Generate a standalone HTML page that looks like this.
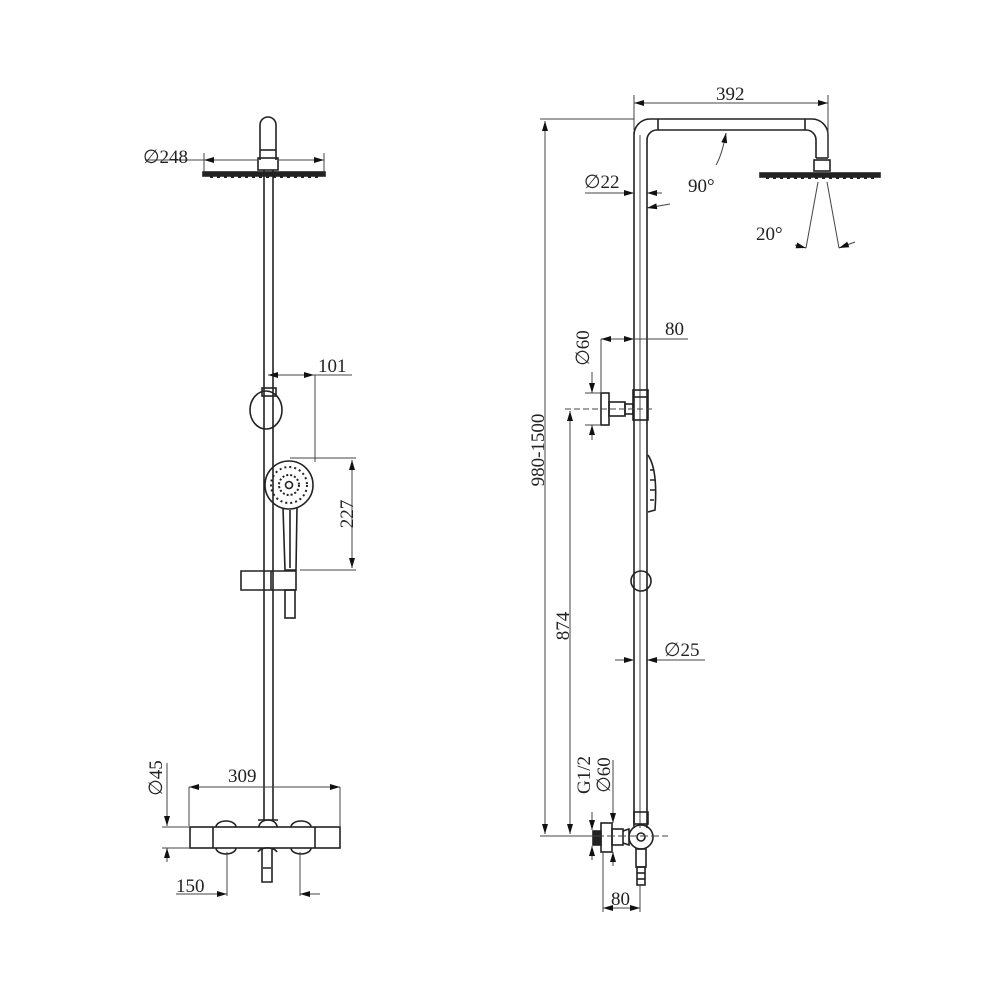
<!DOCTYPE html>
<html><head><meta charset="utf-8"><style>
html,body{margin:0;padding:0;background:#fff}
svg{display:block}
text{font-family:"Liberation Serif",serif;font-size:19px;fill:#222}
</style></head><body>
<svg width="1000" height="1000" viewBox="0 0 1000 1000" xmlns="http://www.w3.org/2000/svg">
<defs>
<marker id="a" viewBox="0 0 10 6" refX="10" refY="3" markerWidth="10" markerHeight="6" orient="auto-start-reverse" markerUnits="userSpaceOnUse"><path d="M0,0L10,3L0,6z" fill="#111"/></marker>
</defs>
<g fill="none" stroke="#222" stroke-width="1.6">
<path d="M260,160 L260,125 A8,8 0 0 1 276,125 L276,160"/>
<line x1="260" y1="150" x2="276" y2="150"/>
<rect x="258" y="158" width="20" height="12"/>
<line x1="264" y1="170" x2="264" y2="820"/>
<line x1="273" y1="170" x2="273" y2="820"/>
<rect x="203" y="172" width="122" height="4" fill="#222"/>
<path d="M210,177 L318,177" stroke-dasharray="3 4" stroke-width="2"/>
<rect x="262" y="388" width="14" height="8"/>
<ellipse cx="266" cy="410" rx="16" ry="19"/>
<circle cx="289" cy="485" r="24"/>
<circle cx="289" cy="485" r="18" stroke-dasharray="2 3" stroke-width="2"/>
<circle cx="289" cy="485" r="10" stroke-dasharray="2 2" stroke-width="2"/>
<circle cx="289" cy="485" r="3.5"/>
<path d="M283,508 L285,570 L296,570 L297,508"/>
<line x1="290" y1="510" x2="290" y2="568"/>
<path d="M241,571 L296,571 L296,590 L241,590 Z"/>
<line x1="271" y1="571" x2="271" y2="590"/>
<rect x="285" y="590" width="10" height="28"/>
<rect x="190" y="827" width="150" height="21"/>
<line x1="213" y1="827" x2="213" y2="848"/>
<line x1="315" y1="827" x2="315" y2="848"/>
<path d="M216,827 A10,6 0 0 1 236,827 M291,827 A10,6 0 0 1 311,827 M216,848 A10,6 0 0 0 236,848 M291,848 A10,6 0 0 0 311,848 M259,827 A9,7 0 0 1 277,827"/>
<path d="M258,820 L278,820"/>
<path d="M262,848 L262,882 L272,882 L272,848 M258,852 A10,6 0 0 1 277,852 M263,868 L271,868"/>
</g>
<g fill="none" stroke="#444" stroke-width="1">
<line x1="145" y1="160" x2="204" y2="160"/>
<line x1="204" y1="160" x2="258" y2="160" marker-start="url(#a)"/>
<line x1="278" y1="160" x2="324" y2="160" marker-end="url(#a)"/>
<line x1="204" y1="153" x2="204" y2="172"/><line x1="324" y1="153" x2="324" y2="172"/>
<line x1="268" y1="375" x2="352" y2="375"/>
<line x1="268" y1="375" x2="282" y2="375" marker-start="url(#a)"/>
<line x1="300" y1="375" x2="314" y2="375" marker-end="url(#a)"/>
<line x1="315" y1="375" x2="315" y2="462"/>
<line x1="290" y1="458" x2="356" y2="458"/><line x1="300" y1="570" x2="356" y2="570"/>
<line x1="352" y1="460" x2="352" y2="568" marker-start="url(#a)" marker-end="url(#a)"/>
<line x1="189" y1="787" x2="340" y2="787" marker-start="url(#a)" marker-end="url(#a)"/>
<line x1="189" y1="787" x2="189" y2="826"/><line x1="340" y1="787" x2="340" y2="826"/>
<line x1="167" y1="763" x2="167" y2="826" marker-end="url(#a)"/>
<line x1="167" y1="848" x2="167" y2="862" marker-start="url(#a)"/>
<line x1="162" y1="827" x2="190" y2="827"/><line x1="162" y1="848" x2="190" y2="848"/>
<line x1="227" y1="852" x2="227" y2="896"/><line x1="300" y1="852" x2="300" y2="896"/>
<line x1="176" y1="894" x2="227" y2="894" marker-end="url(#a)"/>
<line x1="300" y1="894" x2="320" y2="894" marker-start="url(#a)"/>
</g>
<text x="143" y="163">∅248</text>
<text x="318" y="372">101</text>
<text transform="translate(353,514) rotate(-90)" text-anchor="middle">227</text>
<text x="228" y="782">309</text>
<text transform="translate(162,778) rotate(-90)" text-anchor="middle">∅45</text>
<text x="176" y="892">150</text>

<g fill="none" stroke="#222" stroke-width="1.6">
<path d="M634,828 L634,135 A16,16 0 0 1 650,119 L812,119 A16,16 0 0 1 828,135 L828,158"/>
<path d="M647,828 L647,140 A10,10 0 0 1 657,130 L806,130 A10,10 0 0 1 816,140 L816,158"/>
<line x1="658" y1="119" x2="658" y2="130"/><line x1="805" y1="119" x2="805" y2="130"/>
<line x1="816" y1="158" x2="828" y2="158"/>
<rect x="814" y="160" width="16" height="11"/>
<rect x="760" y="173" width="120" height="4" fill="#222"/>
<path d="M766,178 L874,178" stroke-dasharray="3 4" stroke-width="2"/>
<line x1="640" y1="135" x2="640" y2="828" stroke-width="0.8"/>
<rect x="633" y="390" width="15" height="30"/>
<line x1="633" y1="397" x2="648" y2="397"/>
<rect x="601" y="393" width="8" height="32"/>
<rect x="609" y="402" width="16" height="14"/>
<rect x="625" y="404" width="8" height="10"/>
<path d="M648,455 Q658,470 655,510 L648,512"/>
<path d="M650,470 L654,470 M650,480 L655,480 M650,490 L655,490 M650,500 L654,500"/>
<circle cx="641" cy="581" r="10"/>
<rect x="634" y="812" width="14" height="12"/>
<circle cx="641" cy="837" r="12"/>
<circle cx="641" cy="837" r="4"/>
<rect x="636" y="849" width="10" height="18"/>
<rect x="637" y="867" width="8" height="18"/>
<line x1="637" y1="873" x2="645" y2="873"/><line x1="637" y1="879" x2="645" y2="879"/>
<rect x="601" y="823" width="11" height="29"/>
<rect x="593" y="831" width="8" height="14" fill="#222"/>
<rect x="612" y="829" width="11" height="16"/>
<path d="M623,831 L629,829 L629,845 L623,843"/>
</g>
<g fill="none" stroke="#444" stroke-width="1">
<line x1="634" y1="103" x2="828" y2="103" marker-start="url(#a)" marker-end="url(#a)"/>
<line x1="634" y1="95" x2="634" y2="130"/><line x1="828" y1="95" x2="828" y2="158"/>
<line x1="540" y1="119" x2="634" y2="119"/>
<line x1="545" y1="121" x2="545" y2="834" marker-start="url(#a)" marker-end="url(#a)"/>
<line x1="540" y1="836" x2="596" y2="836"/>
<path d="M726,133 Q722,155 716,165" marker-start="url(#a)"/>
<line x1="585" y1="193" x2="634" y2="193" marker-end="url(#a)"/>
<line x1="647" y1="193" x2="662" y2="193" marker-start="url(#a)"/>
<line x1="647" y1="208" x2="670" y2="204" marker-start="url(#a)"/>
<line x1="818" y1="182" x2="806" y2="248"/><line x1="827" y1="182" x2="839" y2="248"/>
<line x1="795" y1="245" x2="806" y2="248" marker-end="url(#a)"/>
<line x1="855" y1="242" x2="839" y2="248" marker-end="url(#a)"/>
<line x1="601" y1="339" x2="688" y2="339"/>
<line x1="610" y1="339" x2="601" y2="339" marker-end="url(#a)"/>
<line x1="625" y1="339" x2="634" y2="339" marker-end="url(#a)"/>
<line x1="601" y1="339" x2="601" y2="393"/>
<line x1="592" y1="372" x2="592" y2="393" marker-end="url(#a)"/>
<line x1="592" y1="425" x2="592" y2="440" marker-start="url(#a)"/>
<line x1="585" y1="393" x2="601" y2="393"/><line x1="585" y1="425" x2="601" y2="425"/>
<line x1="565" y1="409" x2="652" y2="409" stroke-dasharray="6 3"/>
<line x1="570" y1="411" x2="570" y2="834" marker-start="url(#a)" marker-end="url(#a)"/>
<line x1="615" y1="660" x2="634" y2="660" marker-end="url(#a)"/>
<line x1="647" y1="660" x2="705" y2="660" marker-start="url(#a)"/>
<line x1="596" y1="836" x2="668" y2="836" stroke-dasharray="8 3"/>
<line x1="592" y1="812" x2="592" y2="830" marker-end="url(#a)"/>
<line x1="592" y1="846" x2="592" y2="860" marker-start="url(#a)"/>
<line x1="613" y1="760" x2="613" y2="823" marker-end="url(#a)"/>
<line x1="613" y1="852" x2="613" y2="866" marker-start="url(#a)"/>
<line x1="603" y1="852" x2="603" y2="912"/><line x1="640" y1="885" x2="640" y2="912"/>
<line x1="603" y1="908" x2="640" y2="908" marker-start="url(#a)" marker-end="url(#a)"/>
</g>
<text x="716" y="100">392</text>
<text x="688" y="192">90°</text>
<text x="584" y="188">∅22</text>
<text x="756" y="240">20°</text>
<text x="665" y="335">80</text>
<text transform="translate(589,348) rotate(-90)" text-anchor="middle">∅60</text>
<text transform="translate(544,450) rotate(-90)" text-anchor="middle">980-1500</text>
<text transform="translate(569,626) rotate(-90)" text-anchor="middle">874</text>
<text x="664" y="656">∅25</text>
<text transform="translate(590,775) rotate(-90)" text-anchor="middle">G1/2</text>
<text transform="translate(610,775) rotate(-90)" text-anchor="middle">∅60</text>
<text x="611" y="905">80</text>
</svg>
</body></html>
